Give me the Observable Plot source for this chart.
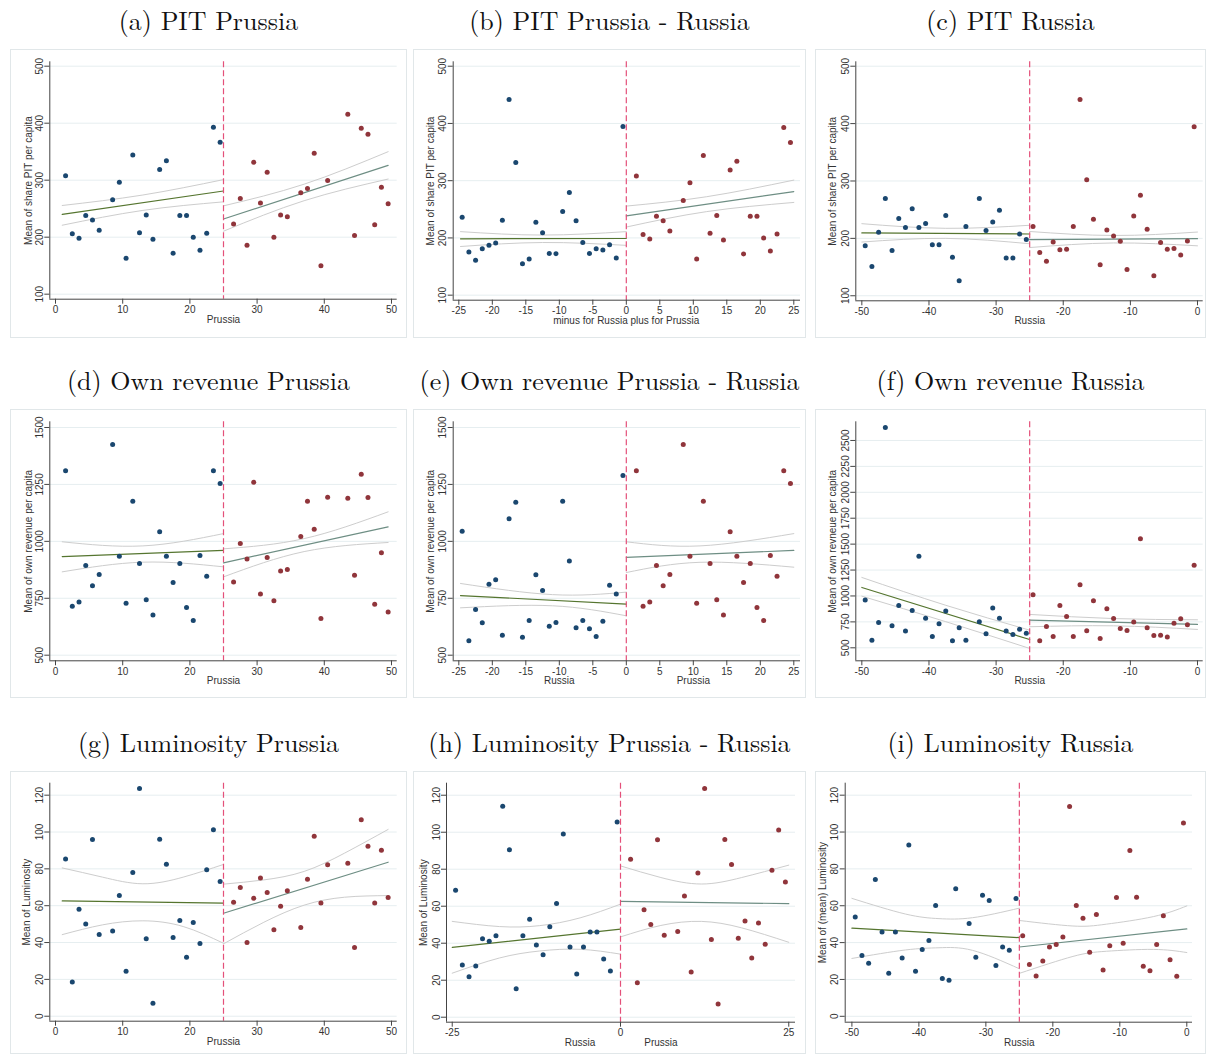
<!DOCTYPE html>
<html><head><meta charset="utf-8">
<script src="https://cdn.jsdelivr.net/npm/d3@7"></script>
<script src="https://cdn.jsdelivr.net/npm/@observablehq/plot@0.6"></script>
<style>
html,body{margin:0;padding:0;background:#fff;}
#wrap{position:relative;width:1208px;height:1054px;background:#fff;overflow:hidden;}
.box{position:absolute;border:1px solid #e1e7e9;box-sizing:border-box;}
.plot{position:absolute;}
#titles{position:absolute;left:0;top:0;}
</style></head><body><div id="wrap"></div>
<script>
// ---------- bin positions ----------
const xPL = [1.5,2.5,3.5,4.5,5.5,6.5,8.5,9.5,10.5,11.5,12.5,13.5,14.5,15.5,16.5,17.5,18.5,19.5,20.5,21.5,22.5,23.5,24.5];
const xPR = [26.5,27.5,28.5,29.5,30.5,31.5,32.5,33.5,34.5,36.5,37.5,38.5,39.5,40.5,43.5,44.5,45.5,46.5,47.5,48.5,49.5];
const xRL = [-49.5,-48.5,-47.5,-46.5,-45.5,-44.5,-43.5,-42.5,-41.5,-40.5,-39.5,-38.5,-37.5,-36.5,-35.5,-34.5,-32.5,-31.5,-30.5,-29.5,-28.5,-27.5,-26.5,-25.5];
const xRR = [-24.5,-23.5,-22.5,-21.5,-20.5,-19.5,-18.5,-17.5,-16.5,-15.5,-14.5,-13.5,-12.5,-11.5,-10.5,-9.5,-8.5,-7.5,-6.5,-5.5,-4.5,-3.5,-2.5,-1.5,-0.5];

// ---------- PIT ----------
const pitPL = [308,206,198,238,230,212,265.5,296.5,163,344,208,239,196.5,318.7,334,172,238,238,200,177,207,393,366.7];
const pitPR = [223,268,186,331.6,260,314,200,239,235.7,278,285.4,347.4,150,299.4,415.8,203,391,380.7,221.6,287.7,258.5];
const pitDL = [236,175.4,161,181,187,191,231,442,331.6,155,163,227.5,209,173,172.5,246,279.5,230,192,173,181,179,188,165,394.7];
const pitRL = [187,151,210.5,269.6,179,234.5,219,251.5,219,226,189,189,240,167,126,220.5,269.6,213.5,228.7,249,166,166,207.6,198];
const pitRR = [220.5,175.4,160,193.6,180,181,220.5,442,302.3,233.3,154,214.6,204,195,145.6,239,275,215.8,135,193,181,182.5,170.8,195.5,394.7];

// ---------- Own revenue ----------
const revPL = [1310,715,734,894,804.5,854,1425,935,728,1176,902.6,743,677,1041.7,935,819,902.6,709,652,938,847,1310,1254];
const revPR = [822,990.5,923,1260,769,929,738.7,870,876,1021,1176,1053,661,1194,1189.6,851,1295,1192.5,724,949.5,690];
const revDL = [1044.7,563,700.6,642,812,831,588,1099,1172,579,652,853,784,627,643.5,1176,914,620,652,616,582,649,807.5,769,1289];
const revRL = [960,574,744,2625,712,908,661,860,1384,786,609,731.5,854,567.5,693,574,751,635,883,786,661,629,680,641.5];
const revRR = [1011,567.5,706,609,908,802,609,1108,664,953,590,876,783,686.5,667,748,1551,693,619,622,603,738,780,722,1297];

// ---------- Luminosity ----------
const lumPL = [85.4,18.6,58.1,50.1,95.9,44.3,46.3,65.5,24.4,78,123.6,42,7.1,96.1,82.5,42.7,52,32,50.9,39.5,79.5,101.2,73.1];
const lumPR = [61.9,69.9,40,64.1,75,67.1,46.9,59.7,68.1,48.1,74.4,97.7,61.5,82.2,83.1,37.3,106.6,92.3,61.4,90.1,64.4];
const lumDL = [68.6,28.2,21.9,27.7,42.4,41.1,44,114,90.5,15.4,44,53,39.1,33.7,48.9,61.5,99,38,23.3,38,46,46,31.5,25,105.5];
const lumRL = [53.9,33,28.8,74.3,45.7,23.3,45.8,31.6,92.9,24.4,36.2,41.1,60.1,20.5,19.5,69.2,50.4,32,65.7,62.9,27.6,37.6,35.8,63.9];
const lumRR = [43.7,28.1,21.9,30,37.6,39,43,113.8,60.1,53.2,34.8,55.3,25.1,38.3,64.5,39.7,90,64.6,27.2,24.7,39,54.6,30.7,21.8,104.9];

// ---------- fitted lines: [x, fit, upper CI, lower CI] ----------
const fitPitPL = [[1,240,255.6,221],[13,260.5,274,247],[25,281,301,262]];
const fitPitPR = [[25,232,255,210.5],[37,278,293,264],[49.5,326,350,302]];
const fitPitDL = [[-24.75,198.5,211,185],[-12.5,198.5,205,192],[0,199,211,187]];
const fitPitDR = [[0,238.6,255.6,219],[12,259,272,246],[25,281,301,262]];
const fitPitRL = [[-50,209.4,225.6,193.6],[-37.5,208.5,217.5,200],[-25,207.6,222.8,190.6]];
const fitPitRR = [[-25,197.7,212,184],[-12.5,198.5,205,192],[0,199.4,211,187]];
const fitRevPL = [[1,933,998,866],[13,946,980,908.5],[25,960,1034,888]];
const fitRevPR = [[25,905.6,967,844],[37,985,1012,955],[49.5,1063.7,1129.6,995]];
const fitRevDL = [[-24.75,762,815,708],[-11,741,766,717],[0,724,777,673]];
const fitRevDR = [[0,930,998,863],[11,943,980,908],[25,960,1034,886.5]];
const fitRevRL = [[-50,1082,1178.5,998],[-37.5,831,910,752],[-25,580,670,494]];
const fitRevRR = [[-25,767,822,703],[-12.5,746,782,712],[0,725,770,677]];
const fitLumPL = [[1,62.6,80.5,44.3],[7,62.3,75.5,49.6],[13,62,71.9,51.8],[19,61.7,75.5,48.7],[25,61.4,82.4,39.6]];
const fitLumPR = [[25,55.9,71.7,39.3],[31,62.7,74,51],[37,69.5,78.6,60.3],[43,76.3,88.5,64.6],[49.5,83.6,101.4,65.5]];
const fitLumDL = [[-25,37.8,51.8,23.8],[-18,40.5,49,32],[-12,42.9,49.5,35.8],[-6,45.2,53.7,36.7],[0,47.6,61.1,34.1]];
const fitLumDR = [[0,62.6,81.8,43.4],[6,62.3,75.5,49.6],[12,62,72,51.8],[18,61.7,75.5,48.3],[25,61.4,82.2,40.5]];
const fitLumRL = [[-50,47.8,64,31.4],[-42,46.2,55.5,36],[-37,45.1,53,37.2],[-32,44.1,53.5,35.8],[-25,42.7,58.7,25.8]];
const fitLumRR = [[-25,37.6,52,23.3],[-17,40.7,49,32.5],[-12,42.7,50,35.3],[-5,45.4,54.1,36.3],[0,47.4,59.9,34.6]];

// ---------- ticks & labels ----------
const ticksP = [0,10,20,30,40,50];
const ticksD = [-25,-20,-15,-10,-5,0,5,10,15,20,25];
const ticksD3 = [-25,0,25];
const ticksR = [-50,-40,-30,-20,-10,0];
const ticksPit = [100,200,300,400,500];
const ticksRev = [500,750,1000,1250,1500];
const ticksRevR = [500,750,1000,1250,1500,1750,2000,2250,2500];
const ticksLum = [0,20,40,60,80,100,120];
const titles = ["(a) PIT Prussia","(b) PIT Prussia - Russia","(c) PIT Russia",
  "(d) Own revenue Prussia","(e) Own revenue Prussia - Russia","(f) Own revenue Russia",
  "(g) Luminosity Prussia","(h) Luminosity Prussia - Russia","(i) Luminosity Russia"];

// ---------- layout (pixels) ----------
const colBox = [[10,397],[413,393],[815,391]];
const rowBox = [[49,289],[409,289],[771,283]];
const titleBase = [30,390,752];

const panels = [
  {xl:xPL,yl:pitPL,xr:xPR,yr:pitPR,fl:fitPitPL,fr:fitPitPR,cut:25,xd:[-0.85,50.85],yd:[91.2,507.7],xt:ticksP,yt:ticksPit,
   ax:[49.3,396.7,61.3,298.7],yLab:"Mean of share PIT per capita",yDx:-21,xLab:[{x:25,t:"Prussia"}]},
  {xl:xRR,yl:pitDL,xr:xPL,yr:pitPL,fl:fitPitDL,fr:fitPitDR,cut:0,xd:[-25.84,26],yd:[91.2,507.7],xt:ticksD,yt:ticksPit,
   ax:[452.7,800,61.3,299.7],yLab:"Mean of share PIT per capita",yDx:-22,xLab:[{x:0,t:"minus for Russia plus for Prussia"}]},
  {xl:xRL,yl:pitRL,xr:xRR,yr:pitRR,fl:fitPitRL,fr:fitPitRR,cut:-25,xd:[-50.9,0.85],yd:[91.2,507.7],xt:ticksR,yt:ticksPit,
   ax:[855.3,1202.7,61.3,300.3],yLab:"Mean of share PIT per capita",yDx:-22.6,xLab:[{x:-25,t:"Russia"}]},
  {xl:xPL,yl:revPL,xr:xPR,yr:revPR,fl:fitRevPL,fr:fitRevPR,cut:25,xd:[-0.85,50.85],yd:[475.4,1525],xt:ticksP,yt:ticksRev,
   ax:[49.3,396.7,421.3,660.3],yLab:"Mean of own revenue per capita",yDx:-21,xLab:[{x:25,t:"Prussia"}]},
  {xl:xRR,yl:revDL,xr:xPL,yr:revPL,fl:fitRevDL,fr:fitRevDR,cut:0,xd:[-25.84,26],yd:[475.4,1525],xt:ticksD,yt:ticksRev,
   ax:[452.7,800,421.3,660.3],yLab:"Mean of own revenue per capita",yDx:-22,xLab:[{x:-10,t:"Russia"},{x:10,t:"Prussia"}]},
  {xl:xRL,yl:revRL,xr:xRR,yr:revRR,fl:fitRevRL,fr:fitRevRR,cut:-25,xd:[-50.9,0.85],yd:[374.6,2680],xt:ticksR,yt:ticksRevR,
   ax:[855.3,1202.7,421.3,660.3],yLab:"Mean of own revneue per capita",yDx:-22.6,xLab:[{x:-25,t:"Russia"}]},
  {xl:xPL,yl:lumPL,xr:xPR,yr:lumPR,fl:fitLumPL,fr:fitLumPR,cut:25,xd:[-0.85,50.85],yd:[-2.7,126.5],xt:ticksP,yt:ticksLum,
   ax:[49.3,396.7,782.7,1020.7],yLab:"Mean of Luminosity",yDx:-22.6,xLab:[{x:25,t:"Prussia"}]},
  {xl:xRR,yl:lumDL,xr:xPL,yr:lumPL,fl:fitLumDL,fr:fitLumDR,cut:0,xd:[-25.85,26],yd:[-2.7,126.5],xt:ticksD3,yt:ticksLum,
   ax:[446,795,782.7,1021.7],yLab:"Mean of Luminosity",yDx:-22.7,xLab:[{x:-6,t:"Russia"},{x:6,t:"Prussia"}]},
  {xl:xRL,yl:lumRL,xr:xRR,yr:lumRR,fl:fitLumRL,fr:fitLumRR,cut:-25,xd:[-51,0.85],yd:[-3.2,126.5],xt:ticksR,yt:ticksLum,
   ax:[844.7,1192,782.7,1021.7],yLab:"Mean of (mean) Luminosity",yDx:-22.7,xLab:[{x:-25,t:"Russia"}]}
];

const wrap = document.getElementById("wrap");
const asRows = t => t.map(([x,f,hi,lo]) => ({x,f,hi,lo}));
const fmt = d => String(d);

panels.forEach((p, k) => {
  const [bl, bw] = colBox[k % 3];
  const [bt, bh] = rowBox[Math.floor(k / 3)];
  const box = document.createElement("div");
  box.className = "box";
  Object.assign(box.style, {left: bl + "px", top: bt + "px", width: bw + "px", height: bh + "px"});
  wrap.appendChild(box);

  const left = p.xl.map((x, i) => ({x, y: p.yl[i]}));
  const right = p.xr.map((x, i) => ({x, y: p.yr[i]}));
  const fl = asRows(p.fl), fr = asRows(p.fr);
  const ciStyle = {stroke: "#cdcdcd", strokeWidth: 1, curve: "natural"};

  const chart = Plot.plot({
    width: bw, height: bh,
    marginLeft: p.ax[0] - bl, marginRight: bl + bw - p.ax[1],
    marginTop: p.ax[2] - bt, marginBottom: bt + bh - p.ax[3],
    x: {domain: p.xd}, y: {domain: p.yd},
    style: {fontFamily: '"Liberation Sans", Arial, sans-serif', fontSize: "10px", color: "#333", background: "transparent", overflow: "visible"},
    marks: [
      Plot.gridY(p.yt, {stroke: "#e6eef0", strokeOpacity: 1}),
      Plot.line(fl, {x: "x", y: "hi", ...ciStyle}),
      Plot.line(fl, {x: "x", y: "lo", ...ciStyle}),
      Plot.line(fr, {x: "x", y: "hi", ...ciStyle}),
      Plot.line(fr, {x: "x", y: "lo", ...ciStyle}),
      Plot.line([fl[0], fl[fl.length - 1]], {x: "x", y: "f", stroke: "#55752f", strokeWidth: 1.2}),
      Plot.line([fr[0], fr[fr.length - 1]], {x: "x", y: "f", stroke: "#6e8e84", strokeWidth: 1.2}),
      Plot.dot(left, {x: "x", y: "y", r: 2.5, fill: "#1a476f"}),
      Plot.dot(right, {x: "x", y: "y", r: 2.5, fill: "#90353b"}),
      Plot.ruleX([p.cut], {stroke: "#e4507a", strokeWidth: 1.2, strokeDasharray: "6,3"}),
      Plot.ruleY([p.yd[0]], {stroke: "#444"}),
      Plot.ruleX([p.xd[0]], {stroke: "#444"}),
      Plot.axisX(p.xt, {tickSize: 5, tickPadding: 2, tickFormat: fmt, label: null, stroke: "#444"}),
      Plot.axisY(p.yt, {tickSize: 5, tickPadding: 2, tickRotate: -90, tickFormat: fmt, label: null, stroke: "#444"}),
      Plot.text([p.yLab], {text: d => d, frameAnchor: "left", dx: p.yDx, rotate: -90, textAnchor: "middle", fontSize: 10, fill: "#333"}),
      Plot.text(p.xLab, {x: "x", text: "t", frameAnchor: "bottom", dy: 23.5, fontSize: 10, fill: "#333"})
    ]
  });
  chart.classList.add("plot");
  Object.assign(chart.style, {left: bl + "px", top: bt + "px"});
  wrap.appendChild(chart);
});

// titles
const NS = "http://www.w3.org/2000/svg";
const tsvg = document.createElementNS(NS, "svg");
tsvg.setAttribute("id", "titles");
tsvg.setAttribute("width", 1208);
tsvg.setAttribute("height", 1054);
tsvg.style.pointerEvents = "none";
titles.forEach((t, k) => {
  const [bl, bw] = colBox[k % 3];
  const el = document.createElementNS(NS, "text");
  el.setAttribute("x", bl + bw / 2);
  el.setAttribute("y", titleBase[Math.floor(k / 3)]);
  el.setAttribute("text-anchor", "middle");
  el.setAttribute("font-family", '"Latin Modern Roman","CMU Serif","Liberation Serif",serif');
  el.setAttribute("font-size", "26");
  el.setAttribute("fill", "#111");
  el.textContent = t;
  tsvg.appendChild(el);
});
wrap.appendChild(tsvg);
</script></body></html>
